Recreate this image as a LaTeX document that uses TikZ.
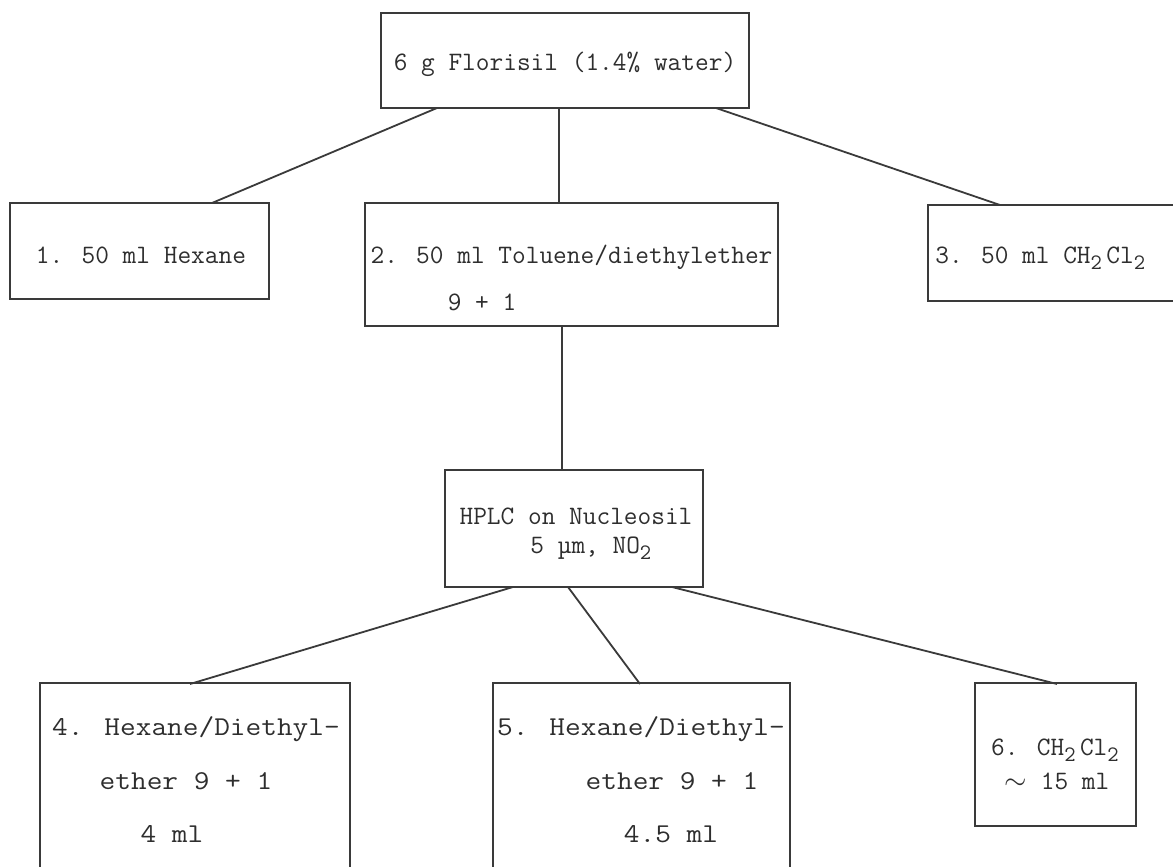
\documentclass[tikz,border=0pt]{standalone}
\usepackage{fontspec}
\definecolor{ink}{HTML}{3A3A3A}
\definecolor{txt}{HTML}{2E2E2E}
\tikzset{
  boxnode/.style={draw=ink, line width=1pt, rectangle, inner sep=0pt},
  lbl/.style={text=txt, inner sep=0pt, font=\fontsize{13.3}{15}\ttfamily, anchor=base},
  wlbl/.style={text=txt, inner sep=0pt, font=\fontsize{13.6}{15}\ttfamily, anchor=base},
  conn/.style={draw=ink, line width=0.9pt}
}
\newcommand{\sbt}[1]{\raisebox{-0.6ex}{\fontsize{11}{12}\selectfont #1}}
\begin{document}
\begin{tikzpicture}[x=0.5pt,y=-0.5pt]
\useasboundingbox (0,0) rectangle (1173,867);
\clip (0,0) rectangle (1173,867);
\fill[white] (0,0) rectangle (1173,867);
% boxes
\node[boxnode, minimum width=184pt, minimum height=47.5pt] (top) at (565,60.5) {};
\node[boxnode, minimum width=129.5pt, minimum height=48pt] (b1) at (139.5,251) {};
\node[boxnode, minimum width=206.5pt, minimum height=61.5pt] (b2) at (571.5,264.5) {};
\node[boxnode, minimum width=128.5pt, minimum height=48pt] (b3) at (1056.5,253) {};
\node[boxnode, minimum width=129pt, minimum height=58.5pt] (hp) at (574,528.5) {};
\node[boxnode, minimum width=155pt, minimum height=98.5pt] (b4) at (195,781.5) {};
\node[boxnode, minimum width=148.5pt, minimum height=98.5pt] (b5) at (641.5,781.5) {};
\node[boxnode, minimum width=80.5pt, minimum height=71.5pt] (b6) at (1055.5,754.5) {};
% connector end points
\coordinate (t1) at (437,108); \coordinate (e1) at (212,203);
\coordinate (t2) at (559,108); \coordinate (e2) at (559,203);
\coordinate (t3) at (716,108); \coordinate (e3) at (1000,205);
\coordinate (t4) at (562,326); \coordinate (e4) at (562,470);
\coordinate (h1) at (513,587); \coordinate (f1) at (190,684);
\coordinate (h2) at (568,587); \coordinate (f2) at (640,684);
\coordinate (h3) at (672,587); \coordinate (f3) at (1057,684);
\draw[conn] (t1) -- (e1);
\draw[conn] (t2) -- (e2);
\draw[conn] (t3) -- (e3);
\draw[conn] (t4) -- (e4);
\draw[conn] (h1) -- (f1);
\draw[conn] (h2) -- (f2);
\draw[conn] (h3) -- (f3);
% texts
\node[lbl] (ttop) at (565,70) {6 g Florisil (1.4\% water)};
\node[lbl] (tb1) at (141,263) {1. 50 ml Hexane};
\node[lbl] (tb2a) at (571.5,263) {2. 50 ml Toluene/diethylether};
\node[lbl] (tb2b) at (482,310) {9 + 1};
\node[lbl, anchor=base west] (tb3) at (935,263) {3. 50 ml CH\sbt{2}\,Cl\sbt{2}};
\node[lbl] (thpa) at (576,524) {HPLC on Nucleosil};
\node[lbl, anchor=base west] (thpb) at (530,553) {5 µm, NO\sbt{2}};
\node[wlbl] (tb4a) at (196,735) {\scalebox{1.12}[1]{4. Hexane/Diethyl-}};
\node[wlbl] (tb4b) at (186,789) {\scalebox{1.12}[1]{ether 9 + 1}};
\node[wlbl] (tb4c) at (172,842) {\scalebox{1.12}[1]{4 ml}};
\node[wlbl] (tb5a) at (641,735) {\scalebox{1.12}[1]{5. Hexane/Diethyl-}};
\node[wlbl] (tb5b) at (672,789) {\scalebox{1.12}[1]{ether 9 + 1}};
\node[wlbl] (tb5c) at (671,842) {\scalebox{1.12}[1]{4.5 ml}};
\node[lbl] (tb6a) at (1055,755) {6. CH\sbt{2}\,Cl\sbt{2}};
\node[lbl] (tb6b) at (1057,789) {$\sim$ 15 ml};
\end{tikzpicture}
\end{document}
